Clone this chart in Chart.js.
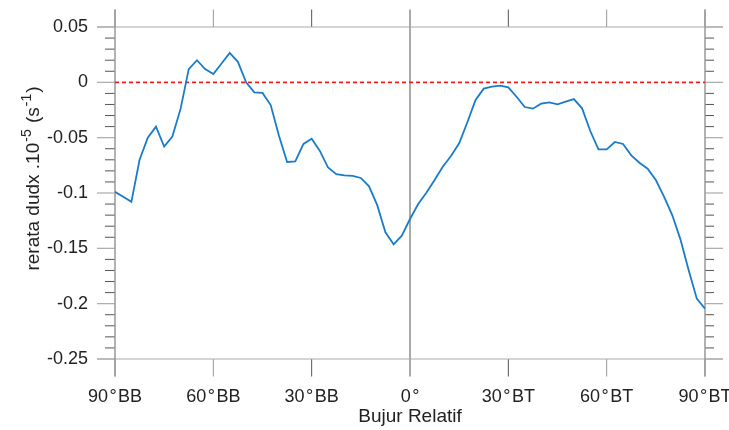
<!DOCTYPE html>
<html><head><meta charset="utf-8">
<script src="https://cdn.jsdelivr.net/npm/chart.js@4"></script>
<style>html,body{margin:0;padding:0;background:#fff;} #wrap{width:729px;height:430px;}</style>
</head><body><div id="wrap"><canvas id="c" width="729" height="430"></canvas></div>
<script>
const longitudes = [-90, -87.5, -85, -82.5, -80, -77.5, -75, -72.5, -70, -67.5, -65, -62.5, -60, -57.5, -55, -52.5, -50, -47.5, -45, -42.5, -40, -37.5, -35, -32.5, -30, -27.5, -25, -22.5, -20, -17.5, -15, -12.5, -10, -7.5, -5, -2.5, 0, 2.5, 5, 7.5, 10, 12.5, 15, 17.5, 20, 22.5, 25, 27.5, 30, 32.5, 35, 37.5, 40, 42.5, 45, 47.5, 50, 52.5, 55, 57.5, 60, 62.5, 65, 67.5, 70, 72.5, 75, 77.5, 80, 82.5, 85, 87.5, 90];
const dudxMean = [-0.099, -0.1033, -0.108, -0.070, -0.050, -0.040, -0.058, -0.049, -0.024, 0.012, 0.020, 0.012, 0.0075, 0.017, 0.0265, 0.0185, 0.000, -0.009, -0.0096, -0.0205, -0.048, -0.072, -0.0714, -0.0557, -0.051, -0.062, -0.077, -0.083, -0.084, -0.0846, -0.0864, -0.094, -0.111, -0.1355, -0.1464, -0.1386, -0.1235, -0.110, -0.0997, -0.0883, -0.0762, -0.0666, -0.0551, -0.0361, -0.016, -0.0057, -0.0039, -0.003, -0.0045, -0.013, -0.0223, -0.0238, -0.0193, -0.0182, -0.0199, -0.0175, -0.0151, -0.0235, -0.044, -0.0606, -0.0606, -0.0539, -0.0557, -0.066, -0.0726, -0.078, -0.0883, -0.1033, -0.1199, -0.1419, -0.1696, -0.1955, -0.2046];
const zeroRefX = [-90, 90];
const zeroRefY = [0, 0];
const xTickValues = [-90, -60, -30, 0, 30, 60, 90];
const xTickLabels = ['90\u200A°\u200ABB', '60\u200A°\u200ABB', '30\u200A°\u200ABB', '0\u200A°', '30\u200A°\u200ABT', '60\u200A°\u200ABT', '90\u200A°\u200ABT'];
const yTickValues = [0.05, 0, -0.05, -0.1, -0.15, -0.2, -0.25];
const yTickLabels = ['0.05', '0', '-0.05', '-0.1', '-0.15', '-0.2', '-0.25'];
const yMinorTicks = [0.04, 0.03, 0.02, 0.01, -0.01, -0.02, -0.03, -0.04, -0.06, -0.07, -0.08, -0.09, -0.11, -0.12, -0.13, -0.14, -0.16, -0.17, -0.18, -0.19, -0.21, -0.22, -0.23, -0.24];
const xTitle = 'Bujur Relatif';
const yTitleParts = [
  {t: 'rerata dudx .10', sup: false},
  {t: '-5', sup: true},
  {t: ' (s', sup: false},
  {t: '-1', sup: true},
  {t: ')', sup: false}
];

const FONT = '"Liberation Sans", Arial, Helvetica, sans-serif';

function seg(ctx, x1, y1, x2, y2, color, w) {
  ctx.strokeStyle = color; ctx.lineWidth = w;
  ctx.beginPath(); ctx.moveTo(x1, y1); ctx.lineTo(x2, y2); ctx.stroke();
}

const framePlugin = {
  id: 'frame',
  beforeDatasetsDraw(chart) {
    const {ctx, chartArea: a, scales: {x, y}} = chart;
    const L = a.left, R = a.right, T = a.top, B = a.bottom;
    const ext = 17.5, maj = 18, minL = 10, minR = 9;
    ctx.save();
    xTickValues.forEach(v => {
      const px = x.getPixelForValue(v);
      const col = Math.abs(v) <= 30 ? '#555' : '#999';
      seg(ctx, px, T - ext, px, T, col, 1);
      seg(ctx, px, B, px, B + ext, col, 1);
    });
    const p0 = x.getPixelForValue(0);
    seg(ctx, p0, T, p0, B, '#555', 1);
    yTickValues.forEach(v => {
      const py = y.getPixelForValue(v);
      seg(ctx, L - maj, py, L, py, '#aaa', 1.2);
      seg(ctx, R, py, R + maj, py, '#aaa', 1.2);
    });
    yMinorTicks.forEach(v => {
      const py = y.getPixelForValue(v);
      seg(ctx, L - minL, py, L, py, '#555', 1);
      seg(ctx, R, py, R + minR, py, '#555', 1);
    });
    const yt = y.getPixelForValue(0.05), yb = y.getPixelForValue(-0.25);
    seg(ctx, L - maj, yt, R + maj, yt, '#aaa', 1.2);
    seg(ctx, L - maj, yb, R + maj, yb, '#aaa', 1.2);
    seg(ctx, L, T - ext, L, B + ext, '#999', 1.5);
    seg(ctx, R, T - ext, R, B + ext, '#999', 1.5);
    ctx.restore();
  },
  afterDraw(chart) {
    const {ctx, chartArea: a} = chart;
    ctx.save();
    ctx.fillStyle = '#222';
    ctx.font = '19px ' + FONT;
    ctx.textAlign = 'center';
    ctx.textBaseline = 'alphabetic';
    ctx.fillText(xTitle, (a.left + a.right) / 2, 421.5);
    const mainSize = 19, supSize = 14, rise = 8;
    let total = 0;
    const widths = yTitleParts.map(p => {
      ctx.font = (p.sup ? supSize : mainSize) + 'px ' + FONT;
      const w = ctx.measureText(p.t).width + (p.sup ? 2 : 0);
      total += w; return w;
    });
    ctx.translate(38.5, 178.5);
    ctx.rotate(-Math.PI / 2);
    ctx.textAlign = 'left';
    let cx = -total / 2;
    yTitleParts.forEach((p, i) => {
      ctx.font = (p.sup ? supSize : mainSize) + 'px ' + FONT;
      ctx.fillText(p.t, cx + (p.sup ? 1 : 0), p.sup ? -rise : 0);
      cx += widths[i];
    });
    ctx.restore();
  }
};

new Chart(document.getElementById('c'), {
  type: 'line',
  data: {
    datasets: [
      {
        data: longitudes.map((lon, i) => ({x: lon, y: dudxMean[i]})),
        borderColor: '#1a7cc8', borderWidth: 1.8, pointRadius: 0, tension: 0, fill: false
      },
      {
        data: zeroRefX.map((lon, i) => ({x: lon, y: zeroRefY[i]})),
        borderColor: '#ff1a1a', borderWidth: 1.6, borderDash: [4, 3], pointRadius: 0, fill: false
      }
    ]
  },
  options: {
    responsive: false,
    animation: false,
    events: [],
    layout: {padding: {left: 0, right: 24, top: 27, bottom: 0}},
    plugins: {legend: {display: false}, tooltip: {enabled: false}, title: {display: false}},
    scales: {
      x: {
        type: 'linear', min: -90, max: 90,
        afterBuildTicks: s => { s.ticks = xTickValues.map(v => ({value: v})); },
        afterFit: s => { s.height = 71; s.paddingLeft = 0; s.paddingRight = 0; },
        grid: {display: false, drawTicks: false}, border: {display: false},
        ticks: {
          autoSkip: false, maxRotation: 0, padding: 27, color: '#222',
          font: {family: FONT, size: 18},
          callback: v => xTickLabels[xTickValues.indexOf(v)]
        }
      },
      y: {
        type: 'linear', min: -0.25, max: 0.05,
        afterBuildTicks: s => { s.ticks = yTickValues.map(v => ({value: v})); },
        afterFit: s => { s.width = 115; s.paddingTop = 0; s.paddingBottom = 0; },
        grid: {display: false, drawTicks: false}, border: {display: false},
        ticks: {
          autoSkip: false, padding: 27, color: '#222',
          font: {family: FONT, size: 18},
          callback: v => yTickLabels[yTickValues.findIndex(t => Math.abs(t - v) < 1e-9)]
        }
      }
    }
  },
  plugins: [framePlugin]
});
</script>
</body></html>
